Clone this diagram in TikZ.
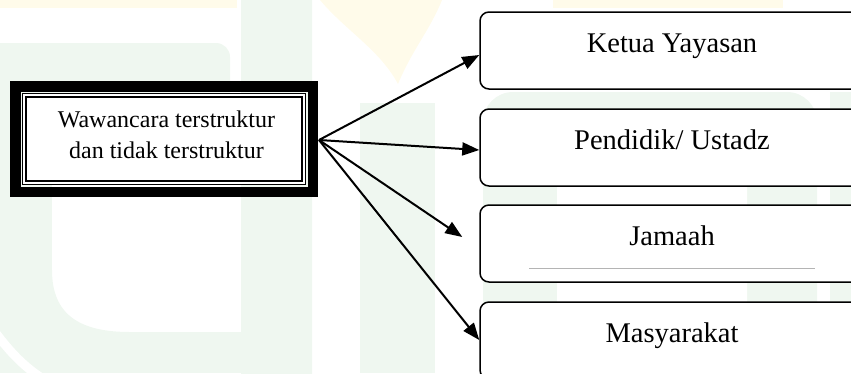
\documentclass[tikz,border=0pt]{standalone}
\usepackage{fontspec}
\setmainfont{Liberation Serif}
\usetikzlibrary{arrows.meta}
\definecolor{wmgreen}{HTML}{EFF7F0}
\definecolor{wmyellow}{HTML}{FFFBEA}
\definecolor{rulegray}{HTML}{B4B4B4}
\tikzset{
  wmg/.style={fill=wmgreen},
  wmy/.style={fill=wmyellow},
  srcbox/.style={draw, double, line width=1.5pt, double distance=1.8pt, fill=white,
    minimum width=279.6pt, minimum height=87.6pt, inner sep=0pt},
  srctext/.style={align=center, inner sep=0pt, font=\fontsize{24}{31}\selectfont},
  thickframe/.style={line width=10.5pt},
  tgtbox/.style={draw, line width=1.5pt, rounded corners=9pt, fill=white,
    minimum width=384pt, inner sep=0pt, text height=40pt, text depth=37pt,
    font=\fontsize{28.5}{34}\selectfont},
  conn/.style={line width=2pt, -{Triangle[length=17pt,width=13pt]}},
  subrule/.style={draw=rulegray, line width=0.9pt}
}
\begin{document}
\begin{tikzpicture}[x=1pt,y=-1pt]
\path[use as bounding box] (0,0) rectangle (851,373);
\clip (0,0) rectangle (851,373);
% faint watermark
\path[wmy] (0,0) rectangle (237,8);
\path[wmy] (553,0) rectangle (783,8);
\path[wmy] (320,0) .. controls (345,30) and (380,50) .. (398,84) .. controls (412,50) and (430,30) .. (442,0) -- cycle;
\path[wmg, rounded corners=14pt] (-20,43) -- (230,43) -- (230,120) -- (-20,120) -- cycle;
\path[wmg] (0,110) rectangle (52,373);
\path[wmg] (0,332) rectangle (312,373);
\path[wmg, rounded corners=20pt] (241,-30) -- (312,-30) -- (312,400) -- (241,400) -- cycle;
\path[wmg] (52,270) -- (52,332) -- (130,332) .. controls (80,332) and (52,315) .. (52,270) -- cycle;
\draw[white, line width=9pt] (-5,332) .. controls (10,352) and (25,368) .. (45,380);
\path[wmg] (360,103) rectangle (435,373);
\path[wmg, rounded corners=30pt] (483,92) -- (817,92) -- (817,400) -- (483,400) -- cycle;
\path[fill=white, rounded corners=25pt] (557,135) -- (747,135) -- (747,400) -- (557,400) -- cycle;
\path[wmg] (830,92) rectangle (851,373);

% diagram
\node[srcbox] (src) at (164,139) {};
\draw[thickframe] ([xshift=-8.2pt,yshift=8.2pt]src.north west) rectangle ([xshift=8.2pt,yshift=-8.2pt]src.south east);
\node[srctext] (srct) at (166.5,134.5) {Wawancara terstruktur\\dan tidak terstruktur};

\node[tgtbox] (t1) at (672,50.5) {Ketua Yayasan};
\node[tgtbox] (t2) at (672,147.5) {Pendidik/ Ustadz};
\node[tgtbox] (t3) at (672,243.5) {Jamaah};
\node[tgtbox] (t4) at (672,340.5) {Masyarakat};
\draw[subrule] ([xshift=-143pt,yshift=-24.5pt]t3.center) -- ([xshift=143pt,yshift=-24.5pt]t3.center);

\coordinate (hub) at (319,140);
\draw[conn] (hub) -- ([yshift=-4.5pt]t1.west);
\draw[conn] (hub) -- ([yshift=-2.5pt]t2.west);
\draw[conn] (hub) -- ([xshift=-17pt,yshift=6.5pt]t3.west);
\draw[conn] (hub) -- ([yshift=0.5pt]t4.west);
\end{tikzpicture}
\end{document}
